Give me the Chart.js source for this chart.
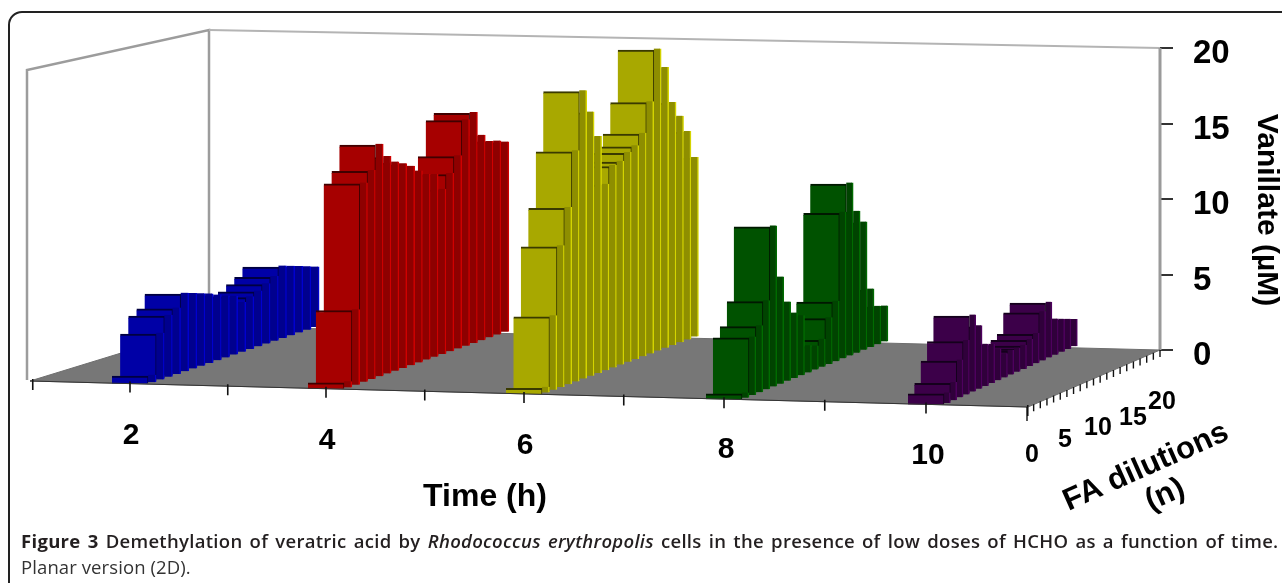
<!DOCTYPE html>
<html><head><meta charset="utf-8">
<script src="https://cdn.jsdelivr.net/npm/chart.js@4"></script>
<style>
html,body{margin:0;padding:0;background:#fff;width:1282px;height:583px;overflow:hidden}
#frame{position:absolute;left:8px;top:11px;width:1300px;height:620px;border:2px solid #222;border-radius:14px;box-sizing:border-box}
#c{position:absolute;left:0;top:0;filter:blur(0.45px)}
#cap{position:absolute;left:21px;top:528px;width:1262px;font:600 18.5px/26px "Open Sans",sans-serif;letter-spacing:.3px;word-spacing:2px;color:#231f20;white-space:nowrap}
#cap .l2{font-weight:400;color:#333;letter-spacing:.1px;word-spacing:0}
#cap b{font-weight:700}
</style></head><body>
<div id="frame"></div>
<canvas id="c" width="1282" height="583"></canvas>
<div id="cap"><b>Figure 3</b> Demethylation of veratric acid by <i>Rhodococcus erythropolis</i> cells in the presence of low doses of HCHO as a function of time.<br><span class="l2">Planar version (2D).</span></div>
<script>
// ---- data ----
const timeHours = [2, 4, 6, 8, 10];
const dilutions = [0,1,2,3,4,5,6,7,8,9,10,11,12,13,14,15,16,17,18,19,20];
const vanillate2h  = [0.5,3.1,4.1,4.4,5.2,5.0,4.8,4.6,4.35,4.1,3.9,3.3,3.5,3.7,4.0,4.3,4.8,4.6,4.4,4.2,4.0];
const vanillate4h  = [0.4,5.0,13.2,13.85,15.4,14.4,13.85,13.55,13.2,12.7,12.3,12.1,10.95,11.8,12.8,15.0,15.3,13.6,13.0,12.85,12.6];
const vanillate6h  = [0.38,4.93,9.38,11.74,15.3,19.1,17.5,15.7,12.35,13.4,13.5,13.9,14.15,14.8,16.7,20.0,18.6,16.1,15.0,13.8,11.9];
const vanillate8h  = [0.35,3.87,4.43,5.9,10.67,7.1,5.25,4.34,3.97,1.8,1.6,1.85,3.1,4.0,9.7,11.45,9.4,8.5,3.87,2.55,2.37];
const vanillate10h = [0.7,1.2,2.5,3.6,5.1,4.2,2.8,2.6,2.1,1.6,1.65,1.6,1.6,1.8,2.0,3.25,3.7,2.4,2.2,2.0,1.8];
const seriesValues = [vanillate2h, vanillate4h, vanillate6h, vanillate8h, vanillate10h];
const faceColors   = ['#0000a6','#a60000','#a8a800','#005200','#3c0049'];
const sideColors   = ['#00008e','#8e0000','#8e8e00','#004400','#30003b'];
const lightColors  = ['#0000d0','#d00000','#d4d400','#006c00','#4e005e'];
const edgeColors   = ['#000040','#400000','#3a3a00','#001800','#14001c'];
const yTicks = [0,5,10,15,20];
const dilutionTickLabels = ['0','5','10','15','20'];

// ---- projection of the floor (oblique view) ----
const AREA = {left:22, right:1160, top:48, bottom:420};
const ZERO_PY = 350;
const PX_PER_T = 99.5, PX_PER_V = (ZERO_PY-AREA.top)/20;
const tAt = px => 1 + (px-33)/PX_PER_T;
const vAt = py => (ZERO_PY-py)/PX_PER_V;
const frontX = t => 524 + 99.5*(t-6) + 0.25*(t-6)*(t-6);
const frontY = t => 381 + 2.6*(t-1);
const backX  = t => 198 + 95*(t-1);
const backY  = t => 326 + 2.4*(t-1);
const floorX = (t,n) => frontX(t) + (backX(t)-frontX(t))*n/20;
const floorY = (t,n) => frontY(t) + (backY(t)-frontY(t))*n/20;
const FACE_W = 36;

const datasets = [];
const line = (pts,color,width,extra) => datasets.push(Object.assign({
  type:'line', data:pts.map(p=>p?({x:tAt(p[0]),y:vAt(p[1])}):({x:null,y:null})),
  borderColor:color, borderWidth:width, pointRadius:0, tension:0, clip:false, spanGaps:false, fill:false
},extra||{}));

// wall frame
line([[27,380],[27,70],[209,30],[209,335]],'#9c9c9c',2.5);
line([[209,30],[1160,48]],'#b4b4b4',2);
line([[1160,48],[1160,350]],'#9a9a9a',3);
// floor
line([[30,381],[209,326],[1160,350],[1028,407],[30,381]],'#6e6e6e',1,{backgroundColor:'#777777',fill:'shape'});

// bars: back rows first, so nearer bars cover them
timeHours.forEach((h,ti)=>{
  const vals = seriesValues[ti];
  for(let k=dilutions.length-1;k>=0;k--){
    const n = dilutions[k], x = floorX(h,n), base = floorY(h,n);
    const step = (backX(h)-frontX(h))/20, rise=(frontY(h)-backY(h))/20;
    const top = base - vals[k]*PX_PER_V;
    datasets.push({type:'bar',label:h+' h, n='+n+' side',
      data:[{x:tAt(x+FACE_W/2+step/2),y:[vAt(base-rise/2),vAt(top-rise/2)]}],
      barThickness:step, backgroundColor:sideColors[ti], borderColor:lightColors[ti],
      borderWidth:{top:0,right:1.5,bottom:0,left:0}, borderSkipped:false, clip:false});
    datasets.push({type:'bar',label:h+' h, n='+n,
      data:[{x:tAt(x),y:[vAt(base),vAt(top)]}],
      barThickness:FACE_W, backgroundColor:faceColors[ti], borderColor:edgeColors[ti],
      borderWidth:{top:2,right:1,bottom:0,left:0}, borderSkipped:false, clip:false});
  }
});

// front edge and its ticks, dilution edge and its ticks
line([[30,381],[1028,407]],'#333',1);
const tk=[]; for(let t=1;t<=11;t++){tk.push([frontX(t),frontY(t)-2],[frontX(t),frontY(t)+9],null);}
line(tk,'#111',1.6);
const dk=[]; for(let n=0;n<=20;n++){const x=1027+n*6.65,y=407-n*2.85;dk.push([x,y],[x,y+(n==0?14:7)],null);}
line(dk,'#111',1.4);
datasets.forEach((d,i)=>d.order=datasets.length-i);

// ---- free text placed along the projected axes ----
const F='"Liberation Sans",Arial,sans-serif';
const labels=[
 ...timeHours.map((h,i)=>({s:String(h),x:[131,327,525,726,928][i],y:[436,441,446,450,456][i],f:'bold 30px '+F})),
 ...dilutionTickLabels.map((s,i)=>({s,x:[1032,1065,1098,1133,1162][i],y:[455,440,428,418,402][i],f:'bold 25px '+F})),
 {s:'Time (h)',x:485,y:497,f:'bold 32px '+F},
 {s:'FA dilutions',x:1146,y:467,r:-24,f:'bold 31px '+F},
 {s:'(n)',x:1165,y:495,r:-24,f:'bold 31px '+F},
 {s:'Vanillate (µM)',x:1266,y:210,r:90,f:'bold 30px '+F}
];
const textPlugin={id:'sceneText',afterDraw(ch){
  const g=ch.ctx; g.save(); g.fillStyle='#000'; g.textAlign='center'; g.textBaseline='middle';
  labels.forEach(l=>{g.save();g.translate(l.x,l.y);if(l.r)g.rotate(l.r*Math.PI/180);g.font=l.f;g.fillText(l.s,0,0);g.restore();});
  g.restore();
}};

new Chart(document.getElementById('c'),{
  type:'bar',
  data:{datasets},
  plugins:[textPlugin],
  options:{
    responsive:false, animation:false, events:[],
    layout:{padding:{left:AREA.left,top:AREA.top,right:0,bottom:583-AREA.bottom}},
    datasets:{bar:{grouped:false}},
    plugins:{legend:{display:false},tooltip:{enabled:false},title:{display:false}},
    scales:{
      x:{type:'linear',display:false,offset:false,min:tAt(AREA.left),max:tAt(AREA.right)},
      y:{type:'linear',position:'right',min:vAt(AREA.bottom),max:20,
         afterFit(s){s.width=1282-AREA.right;},
         afterBuildTicks(s){s.ticks=yTicks.map(v=>({value:v}));},
         ticks:{padding:20,color:'#000',font:{family:'Liberation Sans',weight:'bold',size:33},labelOffset:6},
         grid:{drawOnChartArea:false,drawTicks:true,tickLength:13,color:'#333',lineWidth:2},
         border:{display:false}}
    }
  }
});
</script>
</body></html>
